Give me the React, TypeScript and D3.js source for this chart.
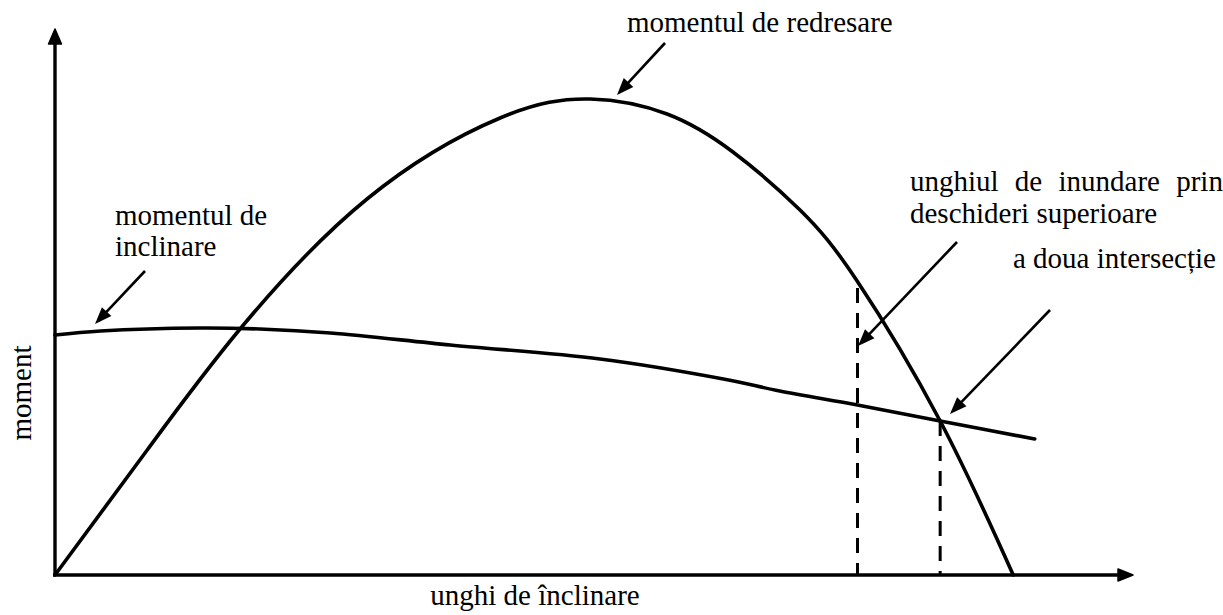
import React from "react";
import * as d3 from "d3";

// angle (deg) / moment (arbitrary units)
const rightingAngles = [0, 7.7, 15.45, 26.05, 37.16, 44.68, 51.1, 56.6, 62.2, 66.97, 73.9, 80];
const rightingMoments = [0, 25, 49.2, 75.2, 91.4, 95.2, 92.2, 84.6, 73, 58.8, 30.8, 0];

const heelingAngles = [0, 3.8, 12.1, 17.1, 23, 33, 45.5, 55.8, 60.5, 67, 73.9, 81.8];
const heelingMoments = [48, 48.8, 49.4, 49.2, 48.4, 46, 43.2, 39.2, 36.8, 34, 30.8, 27.2];

const markerAngles = [67.0, 73.9];
const markerTops = [57.4, 30.8];

const labels = {
  righting: ["momentul de redresare"],
  heeling: ["momentul de", "inclinare"],
  flooding: ["unghiul de inundare prin", "deschideri superioare"],
  second: ["a doua intersecție"],
  yAxis: "moment",
  xAxis: "unghi de înclinare",
};

const W = 1223;
const H = 615;
const FONT = "Liberation Serif, DejaVu Serif, serif";
const FS = 29;

function Arrow({ x1, y1, x2, y2 }: { x1: number; y1: number; x2: number; y2: number }) {
  const dx = x2 - x1;
  const dy = y2 - y1;
  const len = Math.hypot(dx, dy);
  const ux = dx / len;
  const uy = dy / len;
  const hl = 17;
  const hw = 6.5;
  const bx = x2 - ux * hl;
  const by = y2 - uy * hl;
  const px = -uy;
  const py = ux;
  const pts = [
    [x2, y2],
    [bx + px * hw, by + py * hw],
    [bx - px * hw, by - py * hw],
  ];
  return (
    <g>
      <line x1={x1} y1={y1} x2={bx + ux * 2} y2={by + uy * 2} stroke="#000" strokeWidth={2.6} />
      <polygon points={pts.map((p) => p.join(",")).join(" ")} fill="#000" />
    </g>
  );
}

const T = (props: any) => (
  <text {...props} style={{ fontFamily: FONT, fontSize: FS, fill: "#000" }} />
);

export default function App() {
  const x = d3.scaleLinear().domain([0, 90]).range([55, 1133]);
  const y = d3.scaleLinear().domain([0, 109]).range([575, 30]);

  const righting = rightingAngles.map((a, i) => [a, rightingMoments[i]] as [number, number]);
  const heeling = heelingAngles.map((a, i) => [a, heelingMoments[i]] as [number, number]);

  const lineR = d3
    .line<[number, number]>()
    .x((d) => x(d[0]))
    .y((d) => y(d[1]))
    .curve(d3.curveNatural);
  const lineH = d3
    .line<[number, number]>()
    .x((d) => x(d[0]))
    .y((d) => y(d[1]))
    .curve(d3.curveCatmullRom.alpha(0.5));

  const x0 = x(0);
  const y0 = y(0);
  const xEnd = x(90);
  const yTop = y(109);

  return (
    <svg
      width={W}
      height={H}
      style={{ position: "absolute", left: 0, top: 0, background: "#fff" }}
    >
      <rect width={W} height={H} fill="#fff" />
      {/* axes */}
      <line x1={x0} y1={y0} x2={x0} y2={yTop + 12} stroke="#000" strokeWidth={3.4} />
      <path
        d={`M${x0},${yTop - 1} L${x0 + 6.5},${yTop + 14} L${x0 - 6.5},${yTop + 14} Z`}
        fill="#000"
        stroke="#000"
        strokeWidth={1.5}
        strokeLinejoin="round"
      />
      <line x1={x0 - 2} y1={y0} x2={xEnd - 12} y2={y0} stroke="#000" strokeWidth={3.4} />
      <path
        d={`M${xEnd},${y0} L${xEnd - 15},${y0 - 6} L${xEnd - 15},${y0 + 6} Z`}
        fill="#000"
        stroke="#000"
        strokeWidth={1.5}
        strokeLinejoin="round"
      />

      {/* curves */}
      <path d={lineR(righting) || ""} fill="none" stroke="#000" strokeWidth={3.6} strokeLinecap="round" />
      <path d={lineH(heeling) || ""} fill="none" stroke="#000" strokeWidth={3.6} strokeLinecap="round" />

      {/* dashed markers */}
      {markerAngles.map((a, i) => (
        <line
          key={i}
          x1={x(a)}
          y1={y(markerTops[i])}
          x2={x(a)}
          y2={y0}
          stroke="#000"
          strokeWidth={3}
          strokeDasharray="15 10"
        />
      ))}

      {/* labels */}
      <T x={627} y={32}>{labels.righting[0]}</T>
      <Arrow x1={665} y1={43} x2={617} y2={95} />

      <T x={115} y={225}>{labels.heeling[0]}</T>
      <T x={115} y={256}>{labels.heeling[1]}</T>
      <Arrow x1={145} y1={271} x2={95} y2={324} />

      <T x={910} y={191} wordSpacing={9}>{labels.flooding[0]}</T>
      <T x={910} y={223}>{labels.flooding[1]}</T>
      <Arrow x1={957} y1={242} x2={858} y2={346} />

      <T x={1013} y={268}>{labels.second[0]}</T>
      <Arrow x1={1050} y1={310} x2={950} y2={414} />

      <T transform={`translate(31,${393}) rotate(-90)`} textAnchor="middle">
        {labels.yAxis}
      </T>
      <T x={535} y={605} textAnchor="middle">{labels.xAxis}</T>
    </svg>
  );
}
